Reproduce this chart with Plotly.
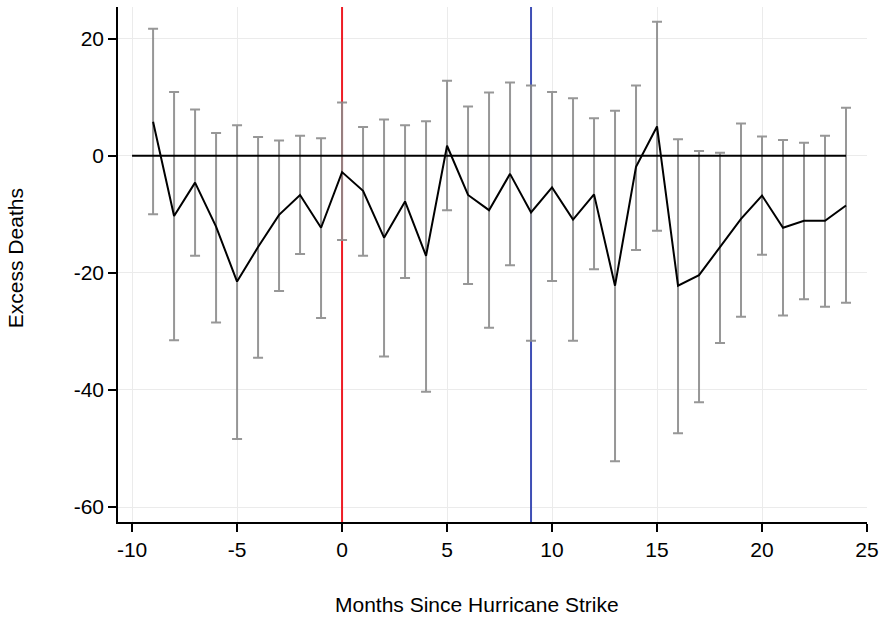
import plotly.graph_objects as go

# Monthly excess-death estimates with 95% confidence bounds
months = list(range(-9, 25))
estimate = [5.8, -10.3, -4.6, -12.1, -21.5, -15.6, -10.1, -6.7, -12.3, -2.8,
            -6.0, -14.0, -7.8, -17.1, 1.7, -6.7, -9.3, -3.1, -9.7, -5.4,
            -10.9, -6.6, -22.2, -1.9, 5.0, -22.2, -20.4, -15.6, -10.8, -6.8,
            -12.3, -11.1, -11.1, -8.5]
upper = [21.7, 10.9, 7.9, 3.9, 5.2, 3.2, 2.6, 3.4, 3.0, 9.1,
         4.9, 6.2, 5.2, 5.9, 12.8, 8.4, 10.8, 12.5, 12.0, 10.9,
         9.8, 6.4, 7.7, 12.0, 22.9, 2.8, 0.8, 0.5, 5.5, 3.3,
         2.7, 2.2, 3.4, 8.2]
lower = [-10.0, -31.5, -17.1, -28.5, -48.4, -34.5, -23.1, -16.8, -27.7, -14.4,
         -17.1, -34.3, -20.9, -40.3, -9.3, -21.9, -29.4, -18.7, -31.6, -21.4,
         -31.6, -19.4, -52.2, -16.1, -12.8, -47.4, -42.1, -32.0, -27.5, -16.9,
         -27.3, -24.5, -25.8, -25.1]

# Reference markers: hurricane strike and follow-up month
strike_month = 0
followup_month = 9
zero_span = [-10, 24]

x_range = [-10.67, 25.0]
y_range = [-62.56, 25.4]
x_ticks = [-10, -5, 0, 5, 10, 15, 20, 25]
y_ticks = [-60, -40, -20, 0, 20]

err_plus = [u - e for u, e in zip(upper, estimate)]
err_minus = [e - l for e, l in zip(estimate, lower)]

fig = go.Figure()

fig.add_trace(go.Scatter(x=[strike_month, strike_month], y=y_range, mode="lines",
                         line=dict(color="#ee1c25", width=2), hoverinfo="skip"))
fig.add_trace(go.Scatter(x=[followup_month, followup_month], y=y_range, mode="lines",
                         line=dict(color="#3f4fb5", width=2), hoverinfo="skip"))

fig.add_trace(go.Scatter(
    x=months, y=estimate, mode="markers",
    marker=dict(size=1, color="rgba(0,0,0,0)"),
    error_y=dict(type="data", symmetric=False, array=err_plus, arrayminus=err_minus,
                 color="rgba(140,140,140,0.9)", thickness=2, width=5),
    hoverinfo="skip"))

fig.add_trace(go.Scatter(x=zero_span, y=[0, 0], mode="lines",
                         line=dict(color="black", width=2), hoverinfo="skip"))

fig.add_trace(go.Scatter(x=months, y=estimate, mode="lines",
                         line=dict(color="black", width=2)))

font = dict(family="Liberation Sans, Arial, sans-serif", size=21, color="black")

fig.update_layout(
    width=886, height=618,
    margin=dict(l=118, r=19, t=7, b=96),
    paper_bgcolor="white", plot_bgcolor="white",
    showlegend=False,
    font=font,
    xaxis=dict(range=x_range, tickvals=x_ticks, ticktext=[str(v) for v in x_ticks],
               ticks="outside", ticklen=8,
               tickcolor="black", tickwidth=1.5, showline=True, linecolor="black",
               linewidth=1.5, showgrid=True, gridcolor="#ebebeb", gridwidth=1,
               zeroline=False, tickfont=font),
    yaxis=dict(range=y_range, tickvals=y_ticks, ticktext=[str(v) for v in y_ticks],
               ticks="outside", ticklen=8,
               tickcolor="black", tickwidth=1.5, showline=True, linecolor="black",
               linewidth=1.5, showgrid=True, gridcolor="#ebebeb", gridwidth=1,
               zeroline=False, tickfont=font),
    annotations=[
        dict(text="Months Since Hurricane Strike", xref="paper", yref="paper",
             x=(477 - 118) / (886 - 118 - 19), y=0, yshift=-(604 - 521.7),
             showarrow=False, font=font, xanchor="center", yanchor="middle"),
        dict(text="Excess Deaths", xref="paper", yref="paper",
             x=0, xshift=-(118 - 15), y=(521.7 - 258) / (521.7 - 7), textangle=-90,
             showarrow=False, font=font, xanchor="center", yanchor="middle"),
    ],
)

fig.write_html("out.html")
